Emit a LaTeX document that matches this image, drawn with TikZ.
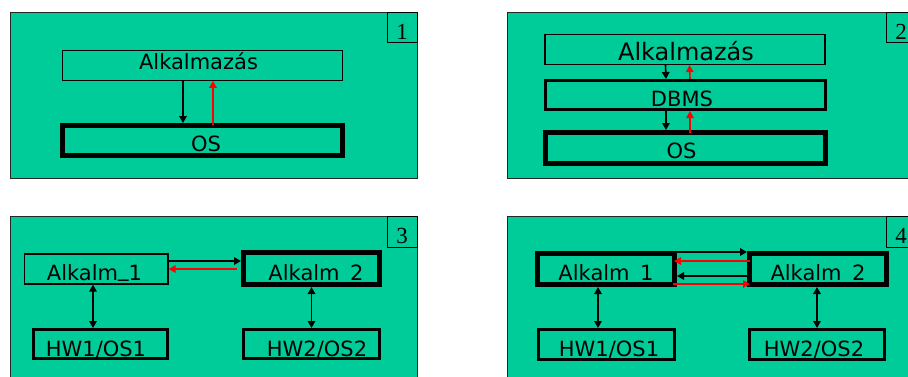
\documentclass[tikz,border=0pt]{standalone}
\usepackage{fontspec}
\setmainfont{DejaVu Sans}
\newfontfamily\numfont{Liberation Serif}
\usetikzlibrary{arrows.meta}
\definecolor{panelgreen}{HTML}{00CC99}
\definecolor{arrowred}{HTML}{FF0000}
% underscore sitting just under the baseline
\newcommand{\lowbar}{\raisebox{4pt}{\_}}

\begin{document}
\begin{tikzpicture}[x=1pt,y=-1pt,
  panel/.style={draw=black!85, line width=1pt, fill=panelgreen},
  numbox/.style={draw=black, line width=0.9pt},
  numtxt/.style={font=\numfont\fontsize{23}{23}\selectfont, anchor=base, inner sep=0},
  thinbox/.style={draw=black, line width=1.2pt, inner sep=0, rectangle},
  midbox/.style={draw=black, line width=3pt, inner sep=0, rectangle},
  heavybox/.style={draw=black, line width=5pt, inner sep=0, rectangle},
  lbl/.style={font=\fontsize{21}{21}\selectfont, anchor=base, inner sep=0},
  biglbl/.style={font=\fontsize{24}{24}\selectfont, anchor=base, inner sep=0},
  flow/.style={line width=1.6pt, -{Triangle[length=7pt,width=7.5pt]}},
  twoway/.style={line width=1.6pt, {Triangle[length=7pt,width=7.5pt]}-{Triangle[length=7pt,width=7.5pt]}},
]
\useasboundingbox (0,0) rectangle (908,376);
\fill[white] (0,0) rectangle (908,376);
\clip (0,0) rectangle (908,376);

% ---------- panel 1 ----------
\draw[panel] (10,12.5) rectangle (417.5,178);
\draw[numbox] (387,12.5) rectangle (417.5,42);
\node[numtxt] (n1) at (402,39.3) {1};
\node[lbl] (t1app) at (198.5,69.3) {Alkalmazás};
\node[lbl] (t1os) at (206,151.7) {OS};
\node[thinbox, minimum width=280pt, minimum height=30pt] (p1app) at (202.5,65.3) {};
\node[heavybox, minimum width=280pt, minimum height=30pt] (p1os) at (202.5,140.5) {};
\draw[flow] ([xshift=-19.5pt]p1app.south) -- ([xshift=-19.5pt]p1os.north);
\draw[flow, arrowred] ([xshift=10.5pt,yshift=-2pt]p1os.north) -- ([xshift=10.5pt]p1app.south);

% ---------- panel 2 ----------
\draw[panel] (507,12.5) rectangle (930,178);
\draw[numbox] (886,12.5) rectangle (916,42);
\node[numtxt] (n2) at (901,39.3) {2};
\node[biglbl] (t2app) at (686,60) {Alkalmazás};
\node[lbl] (t2db) at (682,106) {DBMS};
\node[lbl] (t2os) at (681.5,158) {OS};
\node[thinbox, minimum width=280pt, minimum height=30pt] (p2app) at (685,49.5) {};
\node[midbox, minimum width=280pt, minimum height=29pt] (p2db) at (685.5,95) {};
\node[heavybox, minimum width=280pt, minimum height=31pt] (p2os) at (685.5,148) {};
\draw[flow] ([xshift=-19.5pt]p2app.south) -- ([xshift=-19.5pt]p2db.north);
\draw[flow, arrowred] ([xshift=4.5pt]p2db.north) -- ([xshift=4.5pt]p2app.south);
\draw[flow] ([xshift=-19.5pt]p2db.south) -- ([xshift=-19.5pt]p2os.north);
\draw[flow, arrowred] ([xshift=4.5pt,yshift=-3pt]p2os.north) -- ([xshift=4.5pt]p2db.south);

% ---------- panel 3 ----------
\draw[panel] (10,216) rectangle (417.5,390);
\draw[numbox] (387,216) rectangle (417.5,247);
\node[numtxt] (n3) at (402,243) {3};
\node[lbl] (t3a1) at (94.5,280.7) {Alkalm\lowbar1};
\node[lbl] (t3a2) at (316,280.7) {Alkalm\_2};
\node[lbl] (t3h1) at (96,356) {HW1/OS1};
\node[lbl] (t3h2) at (317,356) {HW2/OS2};
\node[thinbox, minimum width=143.5pt, minimum height=30pt] (a1) at (96.3,269) {};
\node[heavybox, minimum width=136pt, minimum height=32pt] (a2) at (311.5,268.5) {};
\node[midbox, minimum width=134pt, minimum height=29pt] (h1) at (100.5,344) {};
\node[midbox, minimum width=136pt, minimum height=29pt] (h2) at (311.5,344) {};
\draw[flow] ([yshift=8pt]a1.east) -- ([yshift=8pt]a1.east -| a2.west);
\draw[flow, arrowred] ([xshift=-4pt]a1.east -| a2.west) -- (a1.east);
\draw[twoway] ([xshift=-3.3pt]a1.south) -- ([xshift=-3.3pt]a1.south |- h1.north);
\draw[twoway] (a2.south) -- (a2.south |- h2.north);

% ---------- panel 4 ----------
\draw[panel] (507,216) rectangle (930,390);
\draw[numbox] (886,216) rectangle (916,247);
\node[numtxt] (n4) at (901,243) {4};
\node[lbl] (t4a1) at (606,280) {Alkalm\_1};
\node[lbl] (t4a2) at (818,280) {Alkalm\_2};
\node[lbl] (t4h1) at (609,356) {HW1/OS1};
\node[lbl] (t4h2) at (814,356) {HW2/OS2};
\node[heavybox, minimum width=137pt, minimum height=31pt] (b1) at (606,269) {};
\node[heavybox, minimum width=137pt, minimum height=31pt] (b2) at (818,269) {};
\node[midbox, minimum width=136pt, minimum height=30pt] (g1) at (606.5,344.5) {};
\node[midbox, minimum width=135pt, minimum height=30pt] (g2) at (817,344.5) {};
\draw[flow] ([xshift=-7pt,yshift=17pt]b1.east) -- ([yshift=17pt]b1.east -| b2.west);
\draw[flow, arrowred] ([xshift=3pt,yshift=8pt]b1.east -| b2.west) -- ([xshift=-3pt,yshift=8pt]b1.east);
\draw[flow] ([yshift=-7pt]b1.east -| b2.west) -- ([yshift=-7pt]b1.east);
\draw[flow, arrowred] ([xshift=-4pt,yshift=-15pt]b1.east) -- ([xshift=3pt,yshift=-15pt]b1.east -| b2.west);
\draw[twoway] ([xshift=-8pt]b1.south) -- ([xshift=-8pt]b1.south |- g1.north);
\draw[twoway] ([xshift=-1pt]b2.south) -- ([xshift=-1pt]b2.south |- g2.north);
\end{tikzpicture}
\end{document}
